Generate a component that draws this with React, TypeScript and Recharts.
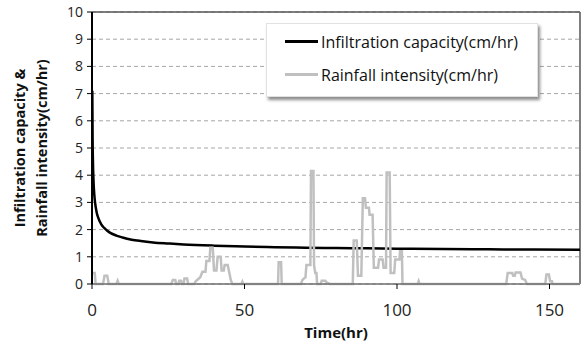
import {
  LineChart,
  Line,
  XAxis,
  YAxis,
  CartesianGrid,
  ReferenceLine,
  Legend,
} from 'recharts';

// infiltration capacity curve
const infilTime = [0.1, 0.2, 0.3, 0.5, 0.75, 1, 1.5, 2, 3, 4, 5, 6, 8, 10, 13, 16, 20, 25, 30, 40, 50, 60, 70, 80, 90, 100, 115, 130, 145, 160];
const infilRate = [7.1, 5.3, 4.56, 3.78, 3.29, 3.0, 2.65, 2.45, 2.2, 2.06, 1.96, 1.88, 1.78, 1.71, 1.63, 1.58, 1.53, 1.49, 1.455, 1.41, 1.38, 1.355, 1.335, 1.32, 1.31, 1.3, 1.285, 1.275, 1.265, 1.26];

// rainfall hyetograph
const rainTime = [
  0, 0.9, 1.2, 3.6, 4.1, 5, 5.5, 8, 8.4, 8.8,
  26, 26.5, 27.3, 27.6, 28.3, 28.6, 29.2, 29.5, 30, 30.3, 31.2, 31.5,
  33.5, 34, 35.5, 36.2, 37.2, 37.5, 38.5, 38.8, 39.6, 40, 40.8, 41.2, 42.2, 42.5, 43.2, 43.5, 44.5, 45.5, 46, 49, 49.3, 49.6,
  61, 61.2, 62, 62.2,
  68.5, 69, 70, 70.3, 71.6, 71.8, 72.6, 72.8, 73.2, 73.6, 73.8, 75, 75.3, 76.5, 77, 78,
  85.5, 85.8, 86.8, 87.2, 88.3, 88.8, 89.5, 89.8, 90.8, 91, 92, 92.4, 93.8, 94.1, 95.3, 95.6, 96.4, 96.6, 97.6, 97.9, 99.1, 99.4, 100.8, 101, 101.6, 101.8,
  106.8, 107.1, 107.4,
  135.8, 136.3, 137.8, 138.1, 138.6, 138.9, 140.5, 141, 142, 142.6,
  148.6, 149, 149.8, 150.2, 150.8, 151,
  160,
];
const rainRate = [
  0.4, 0.4, 0, 0, 0.3, 0.3, 0, 0, 0.12, 0,
  0, 0.15, 0.15, 0, 0, 0.12, 0.12, 0, 0, 0.2, 0.2, 0,
  0, 0.1, 0.25, 0.45, 0.45, 0.85, 0.85, 1.33, 1.33, 0.5, 0.5, 1.0, 1.0, 0.5, 0.5, 0.7, 0.7, 0.15, 0, 0, 0.08, 0,
  0, 0.8, 0.8, 0,
  0, 0.15, 0.25, 0.7, 0.7, 4.15, 4.15, 0.7, 0.4, 0.4, 0, 0, 0.12, 0.12, 0.05, 0,
  0, 1.6, 1.6, 0.3, 0.3, 3.15, 3.15, 2.8, 2.8, 2.55, 2.55, 0.6, 0.6, 0.9, 0.9, 0.6, 0.6, 4.1, 4.1, 0.4, 0.4, 0.9, 0.9, 1.2, 1.2, 0,
  0, 0.1, 0,
  0, 0.4, 0.4, 0.3, 0.3, 0.42, 0.42, 0.2, 0.15, 0,
  0, 0.35, 0.35, 0.1, 0.1, 0,
  0,
];

const xTicks = [0, 50, 100, 150];
const yTicks = [0, 1, 2, 3, 4, 5, 6, 7, 8, 9, 10];

const infilData = infilTime.map((t, i) => ({ t, v: infilRate[i] }));
const rainData = rainTime.map((t, i) => ({ t, v: rainRate[i] }));

const FONT = '"Open Sans", sans-serif';

function LegendBox() {
  const row = (color: string, text: string) => (
    <div style={{ display: 'flex', alignItems: 'center', height: 33 }}>
      <div style={{ width: 33, height: 2.5, background: color, marginLeft: 18, marginRight: 3 }} />
      <span>{text}</span>
    </div>
  );
  return (
    <div
      style={{
        width: 272,
        height: 74,
        boxSizing: 'border-box',
        background: '#fff',
        border: '1px solid #e2e2e2',
        boxShadow: '2px 3px 3px rgba(0,0,0,0.45)',
        fontFamily: FONT,
        fontSize: 16,
        color: '#111',
        paddingTop: 1,
      }}
    >
      {row('#000', 'Infiltration capacity(cm/hr)')}
      {row('#c0c0c0', 'Rainfall intensity(cm/hr)')}
    </div>
  );
}

export default function App() {
  return (
    <div style={{ position: 'absolute', left: 0, top: 0, width: 585, height: 346, background: '#fff' }}>
      <LineChart width={585} height={346} margin={{ top: 12, right: 5, left: 52, bottom: 22 }}>
        <CartesianGrid vertical={false} stroke="#a6a6a6" strokeDasharray="4 3" />
        <XAxis
          type="number"
          dataKey="t"
          domain={[0, 160]}
          ticks={xTicks}
          allowDataOverflow
          height={40}
          tickSize={5}
          tickMargin={15}
          axisLine={{ stroke: '#6e6e6e', strokeWidth: 1.5 }}
          tickLine={{ stroke: '#000' }}
          tick={{ fontSize: 17, fill: '#222', fontFamily: FONT }}
        />
        <YAxis
          type="number"
          domain={[0, 10]}
          ticks={yTicks}
          interval={0}
          width={40}
          tickSize={5}
          tickMargin={4}
          axisLine={{ stroke: '#000', strokeWidth: 2 }}
          tickLine={{ stroke: '#000' }}
          tick={{ fontSize: 14, fill: '#222', fontFamily: FONT }}
        />
        <ReferenceLine y={10} stroke="#555" strokeWidth={1.5} />
        <ReferenceLine x={160} stroke="#555" strokeWidth={1.5} />
        <Line
          data={infilData}
          dataKey="v"
          name="Infiltration capacity(cm/hr)"
          type="monotone"
          stroke="#000"
          strokeWidth={2.5}
          dot={false}
          isAnimationActive={false}
        />
        <Line
          data={rainData}
          dataKey="v"
          name="Rainfall intensity(cm/hr)"
          type="linear"
          stroke="#c0c0c0"
          strokeWidth={2.5}
          dot={false}
          isAnimationActive={false}
        />
        <Legend
          layout="vertical"
          align="center"
          verticalAlign="middle"
          content={() => <LegendBox />}
          wrapperStyle={{ position: 'absolute', top: 23, left: 266, width: 272, height: 74 }}
        />
      </LineChart>
      <div
        style={{
          position: 'absolute',
          left: 336,
          top: 332,
          transform: 'translate(-50%, -50%)',
          fontFamily: FONT,
          fontWeight: 700,
          fontSize: 15,
          color: '#111',
          whiteSpace: 'nowrap',
        }}
      >
        Time(hr)
      </div>
      <div
        style={{
          position: 'absolute',
          left: 31,
          top: 148,
          transform: 'translate(-50%, -50%) rotate(-90deg)',
          fontFamily: FONT,
          fontWeight: 700,
          fontSize: 14.5,
          lineHeight: '22px',
          color: '#111',
          whiteSpace: 'nowrap',
          textAlign: 'center',
        }}
      >
        Infiltration capacity &amp;
        <br />
        Rainfall intensity(cm/hr)
      </div>
    </div>
  );
}
